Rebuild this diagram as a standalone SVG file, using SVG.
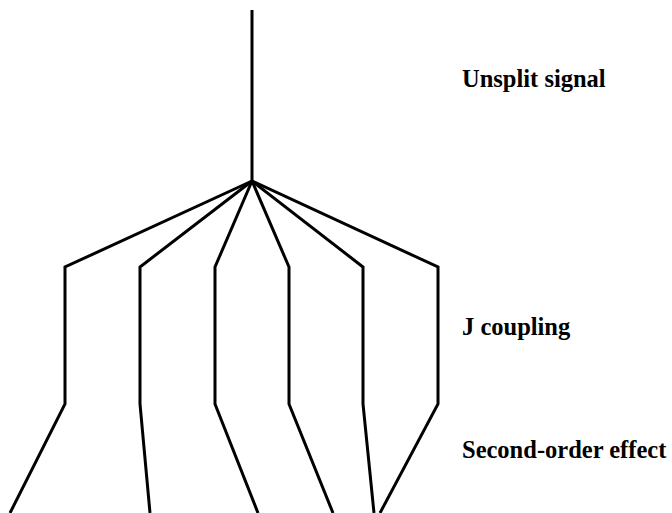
<svg xmlns="http://www.w3.org/2000/svg" width="672" height="513" viewBox="0 0 672 513">
<style>
.ln{fill:none;stroke:#000;stroke-width:3;stroke-linejoin:miter;stroke-linecap:butt}
.lb{font-family:"Liberation Serif","Times New Roman",serif;font-weight:bold;font-size:24.5px;fill:#000}
</style>
<rect width="672" height="513" fill="#fff"/>
<g id="connectors">
<path class="ln" d="M252,10 V181"/>
<path class="ln" d="M252,181 L65,267 V404 L10,513"/>
<path class="ln" d="M252,181 L140,267 V404 L150,513"/>
<path class="ln" d="M252,181 L215,267 V404 L258,513"/>
<path class="ln" d="M252,181 L289,267 V404 L333,513"/>
<path class="ln" d="M252,181 L363,267 V404 L374,513"/>
<path class="ln" d="M252,181 L438,267 V404 L380,513"/>
</g>
<g id="label-unsplit"><text class="lb" x="462" y="87">Unsplit signal</text></g>
<g id="label-j"><text class="lb" x="462" y="335">J coupling</text></g>
<g id="label-second"><text class="lb" x="462" y="458">Second-order effect</text></g>
</svg>
